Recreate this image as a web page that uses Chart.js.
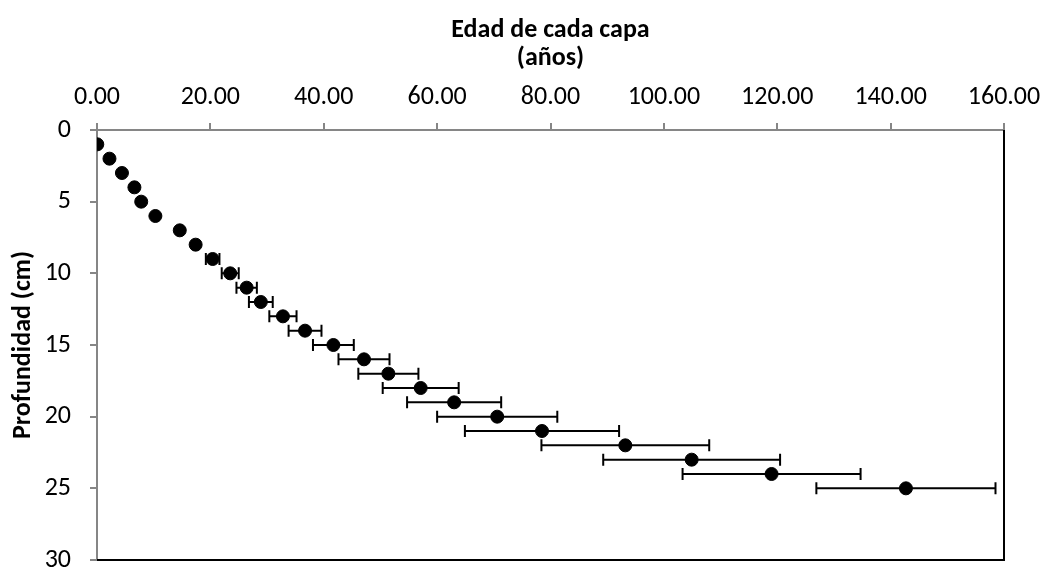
<!DOCTYPE html>
<html>
<head>
<meta charset="utf-8">
<script src="https://cdn.jsdelivr.net/npm/chart.js@4.4.0/dist/chart.umd.min.js"></script>
<style>
  html, body { margin: 0; padding: 0; background: #fff; }
  #wrap { width: 1046px; height: 570px; }
</style>
</head>
<body>
<div id="wrap"><canvas id="ageChart" width="1046" height="570"></canvas></div>
<script>
// profundidad de cada capa (cm)
const depths = [1, 2, 3, 4, 5, 6, 7, 8, 9, 10, 11, 12, 13, 14, 15, 16, 17, 18, 19, 20, 21, 22, 23, 24, 25];
// edad estimada (años)
const ages = [0.05, 2.2, 4.4, 6.6, 7.8, 10.3, 14.6, 17.4, 20.4, 23.5, 26.4, 28.9, 32.8, 36.7, 41.7,
              47.1, 51.4, 57.1, 63.0, 70.6, 78.5, 93.2, 104.9, 119.0, 142.7];
// error (+/-) en años
const ageErrors = [0, 0, 0, 0, 0, 0, 0.1, 0.3, 1.2, 1.5, 1.8, 2.1, 2.4, 2.9, 3.6,
                   4.5, 5.3, 6.7, 8.3, 10.6, 13.6, 14.8, 15.6, 15.7, 15.8];
const xTicks = [0, 20, 40, 60, 80, 100, 120, 140, 160];
const yTicks = [0, 5, 10, 15, 20, 25, 30];

const fontFamily = "Carlito, 'Liberation Sans Narrow', 'Open Sans', sans-serif";
const axisGray = '#868686';

const points = depths.map((d, i) => ({ x: ages[i], y: d, err: ageErrors[i] }));

// barras de error horizontales + borde negro del area de trazado
const errorBars = {
    id: 'errorBars',
    beforeDatasetsDraw(chart) {
        const { ctx, chartArea, scales } = chart;
        ctx.save();
        ctx.strokeStyle = '#000';
        ctx.lineWidth = 2;
        ctx.beginPath();
        ctx.moveTo(chartArea.right, chartArea.top);
        ctx.lineTo(chartArea.right, chartArea.bottom);
        ctx.lineTo(chartArea.left, chartArea.bottom);
        ctx.stroke();

        points.forEach(p => {
            if (!p.err) return;
            const y = scales.y.getPixelForValue(p.y);
            const x1 = scales.x.getPixelForValue(p.x - p.err);
            const x2 = scales.x.getPixelForValue(p.x + p.err);
            ctx.beginPath();
            ctx.moveTo(x1, y);
            ctx.lineTo(x2, y);
            ctx.moveTo(x1, y - 6);
            ctx.lineTo(x1, y + 6);
            ctx.moveTo(x2, y - 6);
            ctx.lineTo(x2, y + 6);
            ctx.stroke();
        });
        ctx.restore();
    }
};

new Chart(document.getElementById('ageChart'), {
    type: 'scatter',
    data: {
        datasets: [{
            label: 'Edad',
            data: points,
            backgroundColor: '#000',
            borderColor: '#000',
            pointRadius: 6.5,
            pointHoverRadius: 6.5
        }]
    },
    options: {
        responsive: false,
        animation: false,
        layout: { padding: { top: 0, left: 0, right: 42, bottom: 10 } },
        plugins: {
            legend: { display: false },
            tooltip: { enabled: false }
        },
        scales: {
            x: {
                type: 'linear',
                position: 'top',
                min: 0,
                max: 160,
                afterBuildTicks: (scale) => { scale.ticks = xTicks.map(v => ({ value: v })); },
                afterFit: (scale) => {
                    scale.height = 130;
                    scale.paddingLeft = 0;
                    scale.paddingRight = 0;
                },
                ticks: {
                    color: '#000',
                    padding: 10,
                    font: { family: fontFamily, size: 26 },
                    callback: (v) => Number(v).toFixed(2)
                },
                grid: { drawOnChartArea: false, drawTicks: true, tickLength: 7, color: axisGray, lineWidth: 2 },
                border: { display: true, color: axisGray, width: 2 },
                title: {
                    display: true,
                    text: ['Edad de cada capa', '(años)'],
                    color: '#000',
                    padding: { top: 16, bottom: 0 },
                    font: { family: fontFamily, size: 26, weight: 'bold', lineHeight: 1.1 }
                }
            },
            y: {
                type: 'linear',
                reverse: true,
                min: 0,
                max: 30,
                afterBuildTicks: (scale) => { scale.ticks = yTicks.map(v => ({ value: v })); },
                afterFit: (scale) => {
                    scale.width = 97;
                    scale.paddingTop = 0;
                    scale.paddingBottom = 0;
                },
                ticks: {
                    color: '#000',
                    padding: 19,
                    font: { family: fontFamily, size: 26 }
                },
                grid: { drawOnChartArea: false, drawTicks: true, tickLength: 7, color: axisGray, lineWidth: 2 },
                border: { display: true, color: axisGray, width: 2 },
                title: {
                    display: true,
                    text: 'Profundidad (cm)',
                    color: '#000',
                    padding: { top: 8, bottom: 0 },
                    font: { family: fontFamily, size: 26, weight: 'bold' }
                }
            }
        }
    },
    plugins: [errorBars]
});
</script>
</body>
</html>
